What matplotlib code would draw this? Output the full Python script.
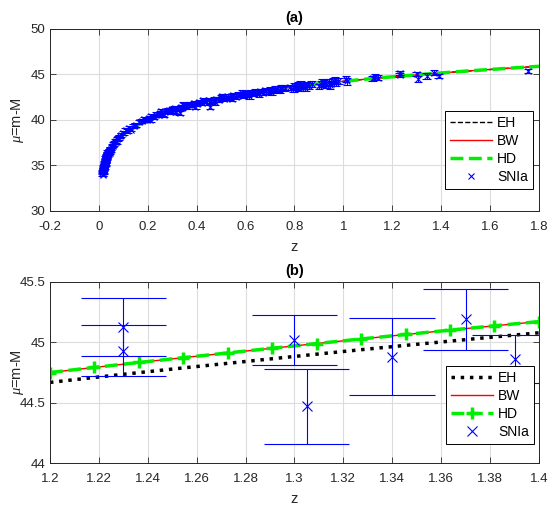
import matplotlib.pyplot as plt
import numpy as np
from matplotlib.ticker import FuncFormatter

plt.rcParams['font.family'] = ['Liberation Sans', 'DejaVu Sans']
plt.rcParams['mathtext.fontset'] = 'custom'
plt.rcParams['mathtext.it'] = 'Liberation Serif:italic'

# ---- model curves ----
z_model = [0.015, 0.02, 0.03, 0.05, 0.1, 0.2, 0.3, 0.4, 0.5, 0.6, 0.7, 0.8, 0.9,
           1.0, 1.1, 1.2, 1.3, 1.4, 1.5, 1.6, 1.7, 1.8]
mu_eh = [34.15, 34.82, 35.70, 36.83, 38.42, 40.10, 41.12, 41.85, 42.43, 42.90, 43.31,
         43.66, 43.97, 44.25, 44.51, 44.75, 44.96, 45.17, 45.37, 45.55, 45.73, 45.90]
mu_bw = [34.15, 34.82, 35.70, 36.83, 38.42, 40.10, 41.12, 41.85, 42.43, 42.90, 43.31,
         43.66, 43.97, 44.25, 44.51, 44.75, 44.96, 45.17, 45.37, 45.55, 45.73, 45.90]
mu_hd = [34.15, 34.82, 35.70, 36.83, 38.42, 40.10, 41.12, 41.85, 42.43, 42.90, 43.31,
         43.66, 43.97, 44.25, 44.51, 44.75, 44.96, 45.17, 45.37, 45.55, 45.73, 45.90]

# ---- zoomed model curves (panel b) ----
z_zoom = [1.2, 1.2182, 1.2364, 1.2545, 1.2727, 1.2909, 1.3091, 1.3273, 1.3455,
          1.3636, 1.3818, 1.4]
mu_eh_zoom = [44.668, 44.709, 44.749, 44.788, 44.826, 44.864, 44.902, 44.939,
              44.975, 45.010, 45.045, 45.079]
mu_bw_zoom = [44.750, 44.792, 44.833, 44.873, 44.912, 44.951, 44.990, 45.028,
              45.065, 45.101, 45.137, 45.172]
mu_hd_zoom = [44.750, 44.792, 44.833, 44.873, 44.912, 44.951, 44.990, 45.028,
              45.065, 45.101, 45.137, 45.172]

# ---- SNIa data ----
z_sn = [0.015, 0.015, 0.016, 0.017, 0.018, 0.019, 0.020, 0.021, 0.022, 0.023,
        0.024, 0.025, 0.026, 0.027, 0.028, 0.029, 0.030, 0.031, 0.032, 0.033,
        0.034, 0.035, 0.036, 0.038, 0.040, 0.042, 0.044, 0.046, 0.048, 0.050,
        0.016, 0.019, 0.022, 0.025, 0.028, 0.031, 0.034, 0.020, 0.026, 0.030,
        0.014, 0.017, 0.021, 0.024, 0.027, 0.029, 0.033, 0.036, 0.039, 0.043,
        0.053, 0.056, 0.060, 0.064, 0.068, 0.072, 0.076, 0.080, 0.085, 0.090,
        0.100, 0.110, 0.116, 0.124, 0.130, 0.142, 0.150, 0.165, 0.175, 0.185,
        0.195, 0.205, 0.215, 0.225, 0.235, 0.245, 0.250, 0.260, 0.265, 0.270,
        0.280, 0.285, 0.290, 0.300, 0.305, 0.310, 0.320, 0.330, 0.335, 0.340,
        0.350, 0.360, 0.370, 0.380, 0.390, 0.400, 0.410, 0.420, 0.430, 0.440,
        0.450, 0.455, 0.460, 0.470, 0.480, 0.490, 0.500, 0.510, 0.520, 0.530,
        0.540, 0.550, 0.560, 0.570, 0.580, 0.590, 0.600, 0.610, 0.620, 0.630,
        0.640, 0.650, 0.660, 0.670, 0.680, 0.690, 0.700, 0.710, 0.720, 0.730,
        0.740, 0.750, 0.760, 0.780, 0.800, 0.810, 0.815, 0.820, 0.830, 0.840,
        0.850, 0.860, 0.870, 0.900, 0.910, 0.920, 0.930, 0.940, 0.950, 0.960,
        0.970, 0.980, 1.010, 1.015, 1.120, 1.130, 1.140, 1.230, 1.230, 1.300,
        1.305, 1.340, 1.370, 1.390, 1.755,
        0.210, 0.255, 0.315, 0.345, 0.395, 0.425, 0.475, 0.505, 0.545, 0.585,
        0.615, 0.655, 0.705, 0.745, 0.795, 0.825, 0.845, 0.915, 0.945, 0.965]
mu_sn = [34.10, 34.35, 34.00, 34.45, 34.25, 34.70, 34.60, 34.95, 34.80, 35.10,
         35.05, 35.35, 35.20, 35.55, 35.40, 35.70, 35.60, 35.85, 35.75, 36.00,
         35.90, 36.15, 36.30, 36.20, 36.45, 36.55, 36.40, 36.75, 36.85, 36.70,
         34.55, 34.40, 35.25, 35.00, 35.90, 36.05, 36.35, 34.90, 35.60, 35.95,
         34.20, 34.80, 34.65, 35.30, 35.15, 35.95, 36.10, 36.50, 36.35, 36.65,
         37.05, 37.15, 37.35, 37.55, 37.70, 37.60, 37.90, 38.05, 38.20, 38.35,
         38.55, 38.90, 38.80, 39.10, 38.95, 39.35, 39.45, 39.75, 39.90, 40.10,
         40.00, 40.25, 40.45, 40.35, 40.60, 40.50, 40.80, 40.70, 40.55, 41.00,
         40.95, 41.10, 40.85, 41.25, 41.05, 41.30, 41.20, 40.75, 41.45, 41.35,
         41.60, 41.50, 41.70, 41.65, 41.85, 41.75, 42.00, 41.90, 42.10, 41.95,
         42.15, 41.45, 42.05, 42.25, 42.30, 42.20, 42.45, 42.35, 42.55, 42.40,
         42.60, 42.70, 42.55, 42.80, 42.75, 42.65, 42.90, 42.85, 43.00, 42.95,
         43.10, 43.05, 43.20, 43.00, 43.30, 43.15, 43.35, 43.25, 43.45, 43.40,
         43.30, 43.55, 43.50, 43.60, 43.75, 43.65, 43.85, 43.55, 43.80, 43.70,
         43.90, 43.75, 43.95, 43.70, 43.95, 44.05, 43.85, 44.15, 44.00, 44.25,
         44.10, 44.30, 44.55, 44.25, 44.60, 44.72, 44.65, 45.13, 44.93, 45.02,
         44.47, 44.88, 45.19, 44.86, 45.38,
         40.05, 40.95, 40.90, 41.70, 41.45, 42.15, 41.95, 42.60, 42.35, 43.00,
         42.65, 42.85, 43.05, 43.55, 43.40, 43.95, 43.50, 44.20, 43.80, 44.35]
err_sn = [0.20, 0.18, 0.17, 0.15, 0.16, 0.18, 0.15, 0.16, 0.17, 0.15,
          0.16, 0.15, 0.18, 0.16, 0.15, 0.17, 0.16, 0.15, 0.16, 0.18,
          0.15, 0.17, 0.16, 0.15, 0.18, 0.16, 0.17, 0.16, 0.18, 0.17,
          0.16, 0.17, 0.15, 0.18, 0.16, 0.17, 0.15, 0.16, 0.18, 0.17,
          0.17, 0.16, 0.18, 0.15, 0.17, 0.16, 0.18, 0.17, 0.16, 0.18,
          0.18, 0.17, 0.19, 0.18, 0.20, 0.19, 0.18, 0.20, 0.19, 0.18,
          0.20, 0.22, 0.20, 0.21, 0.19, 0.22, 0.20, 0.21, 0.20, 0.22,
          0.21, 0.23, 0.22, 0.21, 0.24, 0.22, 0.23, 0.24, 0.22, 0.25,
          0.23, 0.24, 0.22, 0.23, 0.25, 0.24, 0.22, 0.25, 0.24, 0.23,
          0.25, 0.24, 0.23, 0.25, 0.24, 0.26, 0.25, 0.24, 0.26, 0.25,
          0.24, 0.28, 0.26, 0.25, 0.27, 0.26, 0.25, 0.27, 0.26, 0.25,
          0.27, 0.26, 0.28, 0.26, 0.27, 0.25, 0.28, 0.27, 0.26, 0.28,
          0.27, 0.29, 0.26, 0.28, 0.27, 0.29, 0.28, 0.27, 0.30, 0.29,
          0.28, 0.30, 0.29, 0.28, 0.31, 0.30, 0.29, 0.31, 0.30, 0.29,
          0.31, 0.30, 0.32, 0.31, 0.30, 0.32, 0.31, 0.33, 0.30, 0.32,
          0.31, 0.30, 0.33, 0.35, 0.28, 0.30, 0.27, 0.24, 0.21, 0.21,
          0.31, 0.32, 0.25, 0.20, 0.22,
          0.24, 0.25, 0.26, 0.25, 0.27, 0.26, 0.28, 0.27, 0.29, 0.28,
          0.30, 0.29, 0.31, 0.30, 0.32, 0.31, 0.33, 0.32, 0.34, 0.33]

z_sn = np.array(z_sn)
mu_sn = np.array(mu_sn)
err_sn = np.array(err_sn)
cap = 0.0175  # half width of error bar caps, data units

tick_col = '#262626'
fmt = FuncFormatter(lambda v, p: '%g' % round(v, 4))


def style_axes(ax):
    ax.grid(True, color='#dcdcdc', linewidth=0.8)
    ax.set_axisbelow(True)
    ax.tick_params(direction='in', top=True, right=True, length=4, width=0.6,
                   colors=tick_col, labelsize=9.5)
    ax.tick_params(axis='x', pad=7)
    for s in ax.spines.values():
        s.set_color(tick_col)
        s.set_linewidth(0.7)
    ax.xaxis.set_major_formatter(fmt)
    ax.yaxis.set_major_formatter(fmt)


def draw_sn(ax, ms):
    ax.errorbar(z_sn, mu_sn, yerr=err_sn, fmt='none', ecolor='b',
                elinewidth=0.8, capsize=0)
    ax.hlines(mu_sn + err_sn, z_sn - cap, z_sn + cap, colors='b', linewidth=0.8)
    ax.hlines(mu_sn - err_sn, z_sn - cap, z_sn + cap, colors='b', linewidth=0.8)
    ax.plot(z_sn, mu_sn, 'x', color='b', ms=ms, mew=0.8, label='SNIa')


def add_legend(ax, cx, cy):
    leg = ax.legend(loc='center', bbox_to_anchor=(cx, cy), fontsize=10,
                    frameon=True, fancybox=False, edgecolor='k', framealpha=1,
                    handlelength=3.0, labelspacing=0.3, borderpad=0.35,
                    handletextpad=0.4, numpoints=1, borderaxespad=0)
    leg.get_frame().set_linewidth(0.7)


fig = plt.figure(figsize=(5.59, 5.16), dpi=100)

# (a)
ax1 = fig.add_axes([0.0894, 0.5911, 0.8748, 0.3527])
ax1.plot(z_model, mu_eh, '--', color='k', lw=1.0, label='EH')
ax1.plot(z_model, mu_bw, '-', color='r', lw=1.0, label='BW')
ax1.plot(z_model, mu_hd, '--', color='#00ee00', lw=2.5, label='HD')
draw_sn(ax1, 5)
ax1.set_xlim(-0.2, 1.8)
ax1.set_ylim(30, 50)
ax1.set_xticks(np.arange(-0.2, 1.81, 0.2))
ax1.set_yticks([30, 35, 40, 45, 50])
style_axes(ax1)
ax1.set_xlabel('z', fontsize=10.5, color=tick_col, labelpad=5)
ax1.set_ylabel(r'$\mu$=m-M', fontsize=10.5, color=tick_col)
ax1.yaxis.set_label_coords(-0.049, 0.5)
ax1.set_title('(a)', fontsize=10.5, fontweight='bold', pad=5)
add_legend(ax1, 0.898, 0.335)

# (b)
ax2 = fig.add_axes([0.0894, 0.1027, 0.8748, 0.3508])
ax2.plot(z_zoom, mu_eh_zoom, ':', color='k', lw=2.5, label='EH')
ax2.plot(z_zoom, mu_bw_zoom, '-', color='r', lw=1.0, label='BW')
ax2.plot(z_zoom, mu_hd_zoom, '--', color='#00ee00', lw=2.5, marker='+', ms=9,
         mew=2.5, label='HD')
draw_sn(ax2, 7)
ax2.set_xlim(1.2, 1.4)
ax2.set_ylim(44, 45.5)
ax2.set_xticks(np.arange(1.2, 1.401, 0.02))
ax2.set_yticks([44, 44.5, 45, 45.5])
style_axes(ax2)
ax2.set_xlabel('z', fontsize=10.5, color=tick_col, labelpad=5)
ax2.set_ylabel(r'$\mu$=m-M', fontsize=10.5, color=tick_col)
ax2.yaxis.set_label_coords(-0.049, 0.5)
ax2.set_title('(b)', fontsize=10.5, fontweight='bold', pad=5)
add_legend(ax2, 0.90, 0.32)

fig.savefig('out.png', dpi=100)
